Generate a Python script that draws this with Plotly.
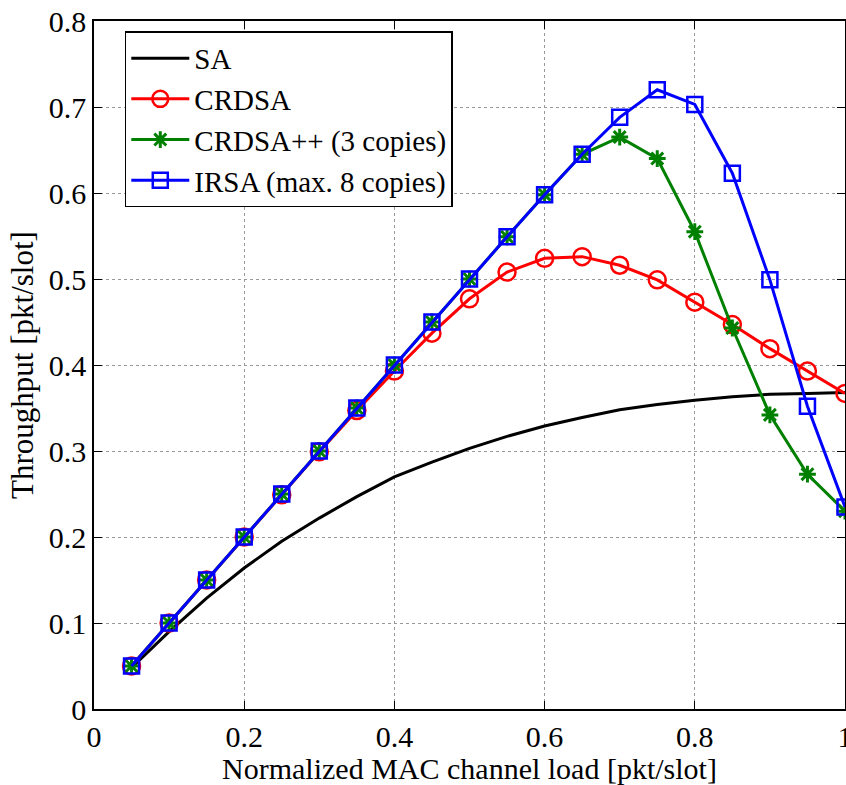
import plotly.graph_objects as go

load = [0.05, 0.10, 0.15, 0.20, 0.25, 0.30, 0.35, 0.40, 0.45, 0.50,
        0.55, 0.60, 0.65, 0.70, 0.75, 0.80, 0.85, 0.90, 0.95, 1.00]
sa = [0.048, 0.090, 0.129, 0.164, 0.195, 0.222, 0.247, 0.270, 0.287, 0.303,
      0.317, 0.329, 0.339, 0.348, 0.354, 0.359, 0.363, 0.366, 0.367, 0.368]
crdsa = [0.050, 0.100, 0.150, 0.200, 0.249, 0.299, 0.347, 0.393, 0.437, 0.477,
         0.508, 0.524, 0.526, 0.516, 0.499, 0.473, 0.447, 0.419, 0.393, 0.367]
crdsapp = [0.050, 0.100, 0.150, 0.200, 0.250, 0.300, 0.350, 0.400, 0.450, 0.500,
           0.549, 0.598, 0.645, 0.665, 0.640, 0.555, 0.443, 0.342, 0.273, 0.230]
irsa = [0.050, 0.100, 0.150, 0.200, 0.250, 0.300, 0.350, 0.400, 0.450, 0.500,
        0.549, 0.598, 0.645, 0.688, 0.720, 0.703, 0.623, 0.499, 0.352, 0.235]

x_ticks = [0, 0.2, 0.4, 0.6, 0.8, 1]
x_tick_text = ["0", "0.2", "0.4", "0.6", "0.8", "1"]
y_ticks = [0, 0.1, 0.2, 0.3, 0.4, 0.5, 0.6, 0.7, 0.8]
y_tick_text = ["0", "0.1", "0.2", "0.3", "0.4", "0.5", "0.6", "0.7", "0.8"]

FONT = "'Liberation Serif', 'Times New Roman', Times, serif"

fig = go.Figure()
fig.add_trace(go.Scatter(x=load, y=sa, mode="lines", name="SA",
                         line=dict(color="black", width=3)))
fig.add_trace(go.Scatter(x=load, y=crdsa, mode="lines+markers", name="CRDSA",
                         line=dict(color="#ff0000", width=3),
                         marker=dict(symbol="circle-open", size=17, color="#ff0000",
                                     line=dict(width=2.5, color="#ff0000"))))
fig.add_trace(go.Scatter(x=load, y=crdsapp, mode="lines+markers", name="CRDSA++ (3 copies)",
                         line=dict(color="#008000", width=3),
                         marker=dict(symbol="asterisk-open", size=14, color="#008000",
                                     line=dict(width=3, color="#008000"))))
fig.add_trace(go.Scatter(x=load, y=irsa, mode="lines+markers", name="IRSA (max. 8 copies)",
                         line=dict(color="#0000ff", width=3),
                         marker=dict(symbol="square-open", size=15, color="#0000ff",
                                     line=dict(width=2.5, color="#0000ff"))))

axis_common = dict(
    showline=True, linecolor="black", linewidth=1.5, mirror="ticks",
    ticks="inside", ticklen=8, tickcolor="black", tickwidth=1,
    showgrid=True, gridcolor="#999999", griddash="dot", gridwidth=1,
    zeroline=False, ticklabeloverflow="allow", automargin=False,
    tickfont=dict(family=FONT, size=30, color="black"),
)

fig.update_xaxes(range=[0, 1], tickvals=x_ticks, ticktext=x_tick_text,
                 title=dict(text="Normalized MAC channel load [pkt/slot]",
                            font=dict(family=FONT, size=30, color="black"), standoff=0),
                 **axis_common)
fig.update_yaxes(range=[0, 0.8], tickvals=y_ticks, ticktext=y_tick_text,
                 title=dict(text="Throughput [pkt/slot]",
                            font=dict(family=FONT, size=31, color="black"), standoff=6),
                 **axis_common)

fig.update_layout(
    width=846, height=785,
    margin=dict(l=94, r=1, t=21, b=76, autoexpand=False),
    plot_bgcolor="white", paper_bgcolor="white",
    font=dict(family=FONT, color="black"),
    legend=dict(x=0.041, y=0.985, xanchor="left", yanchor="top",
                bgcolor="white", bordercolor="black", borderwidth=1.5,
                font=dict(family=FONT, size=29, color="black"),
                itemwidth=58, tracegroupgap=0),
)

fig.write_html("out.html")
